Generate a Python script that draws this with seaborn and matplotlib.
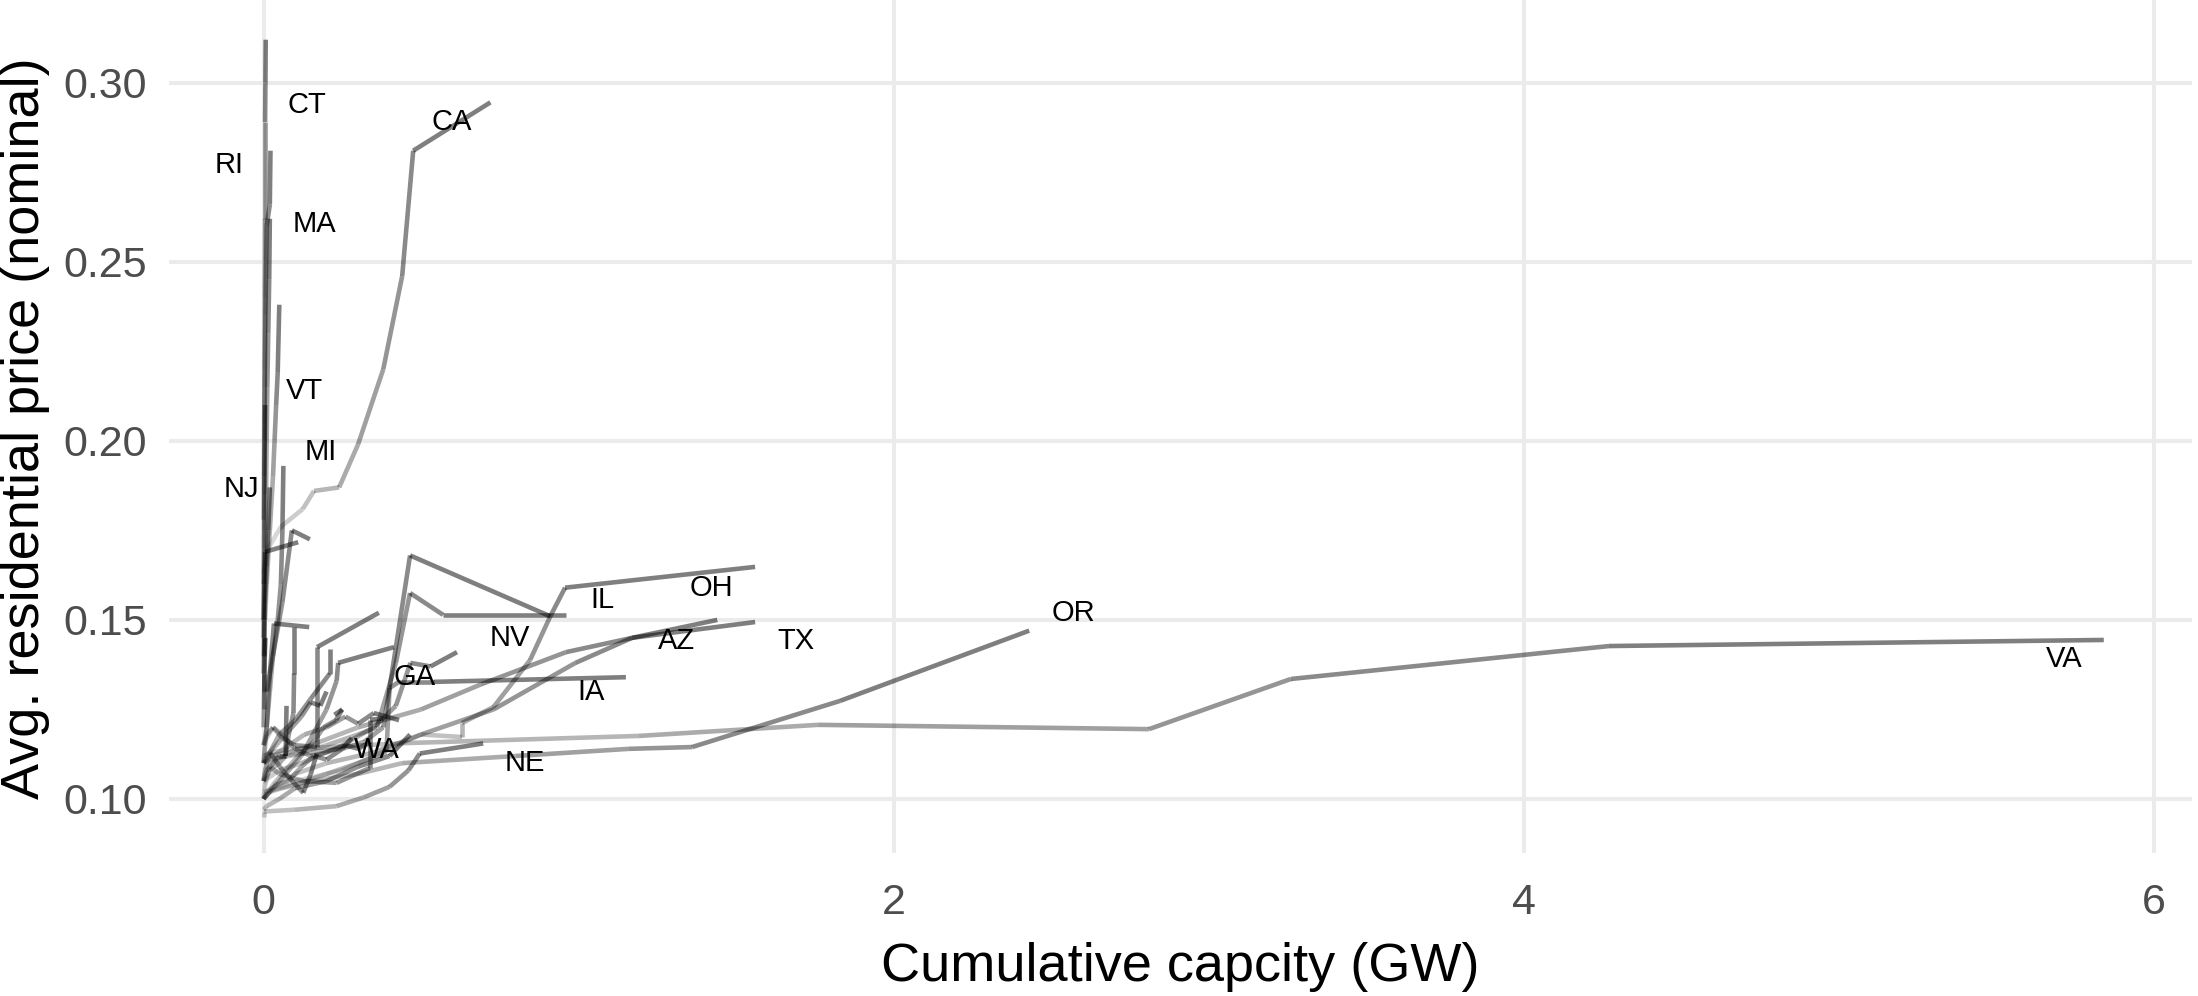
import numpy as np
import pandas as pd
import matplotlib
matplotlib.use("Agg")
import matplotlib.pyplot as plt
import seaborn as sns
from matplotlib.collections import LineCollection

# cumulative capacity (GW) and avg. residential price per state, oldest year first
CT_cap = [0.000, 0.001, 0.002, 0.003, 0.004, 0.005, 0.005, 0.006, 0.007]
CT_price = [0.178, 0.190, 0.205, 0.220, 0.240, 0.262, 0.289, 0.300, 0.312]
RI_cap = [0.000, 0.000, 0.001, 0.002, 0.003, 0.004, 0.006, 0.010, 0.020, 0.022]
RI_price = [0.150, 0.160, 0.170, 0.185, 0.200, 0.215, 0.235, 0.260, 0.266, 0.281]
MA_cap = [0.000, 0.002, 0.004, 0.006, 0.008, 0.010, 0.012, 0.015, 0.018, 0.020]
MA_price = [0.140, 0.150, 0.160, 0.170, 0.185, 0.200, 0.215, 0.230, 0.245, 0.262]
NH_cap = [0.000, 0.000, 0.001, 0.002, 0.003, 0.004, 0.005]
NH_price = [0.130, 0.145, 0.160, 0.175, 0.190, 0.200, 0.210]
VT_cap = [0.005, 0.010, 0.020, 0.030, 0.035, 0.040, 0.045, 0.050]
VT_price = [0.150, 0.160, 0.175, 0.190, 0.200, 0.210, 0.219, 0.238]
NY_cap = [0.000, 0.000, 0.002, 0.005, 0.110]
NY_price = [0.140, 0.150, 0.160, 0.169, 0.1717]
DC_cap = [0.010, 0.030, 0.060, 0.090, 0.147]
DC_price = [0.130, 0.140, 0.155, 0.175, 0.1725]
MI_cap = [0.000, 0.010, 0.020, 0.030, 0.045, 0.055, 0.060, 0.063]
MI_price = [0.115, 0.120, 0.130, 0.140, 0.150, 0.160, 0.175, 0.193]
NJ_cap = [0.000, 0.000, 0.002, 0.005, 0.010, 0.015, 0.020]
NJ_price = [0.125, 0.135, 0.145, 0.155, 0.165, 0.175, 0.187]
ME_cap = [0.000, 0.001, 0.002, 0.004, 0.006]
ME_price = [0.120, 0.125, 0.130, 0.140, 0.145]
DE_cap = [0.000, 0.010, 0.020, 0.033, 0.145]
DE_price = [0.110, 0.120, 0.135, 0.149, 0.148]
MD_cap = [0.000, 0.010, 0.030, 0.060, 0.100, 0.170, 0.170, 0.366]
MD_price = [0.115, 0.118, 0.120, 0.117, 0.115, 0.1145, 0.1424, 0.152]
PA_cap = [0.000, 0.020, 0.050, 0.070, 0.080, 0.095, 0.097, 0.097]
PA_price = [0.105, 0.108, 0.110, 0.112, 0.118, 0.124, 0.135, 0.148]
NC_cap = [0.000, 0.050, 0.120, 0.200, 0.232, 0.237, 0.414]
NC_price = [0.100, 0.105, 0.112, 0.125, 0.133, 0.138, 0.1424]
WI_cap = [0.000, 0.020, 0.050, 0.100, 0.150, 0.210, 0.210]
WI_price = [0.110, 0.113, 0.118, 0.122, 0.128, 0.135, 0.142]
GA_cap = [0.000, 0.050, 0.120, 0.250, 0.350, 0.420, 0.466, 0.530, 0.614]
GA_price = [0.105, 0.108, 0.110, 0.115, 0.120, 0.126, 0.138, 0.137, 0.141]
IA_cap = [0.000, 0.020, 0.100, 0.200, 0.300, 0.390, 0.400, 0.430, 0.540, 1.150]
IA_price = [0.100, 0.102, 0.104, 0.107, 0.110, 0.113, 0.131, 0.1327, 0.1327, 0.134]
NV_cap = [0.000, 0.020, 0.080, 0.150, 0.250, 0.320, 0.380, 0.400, 0.465, 0.910]
NV_price = [0.110, 0.111, 0.112, 0.113, 0.114, 0.116, 0.120, 0.131, 0.168, 0.151]
IL_cap = [0.000, 0.005, 0.020, 0.060, 0.120, 0.200, 0.300, 0.360, 0.420, 0.465, 0.570, 0.960]
IL_price = [0.105, 0.108, 0.110, 0.112, 0.113, 0.115, 0.118, 0.120, 0.138, 0.1575, 0.1514, 0.1514]
OH_cap = [0.000, 0.020, 0.100, 0.250, 0.500, 0.630, 0.630, 0.730, 0.846, 0.910, 0.957, 1.560]
OH_price = [0.100, 0.102, 0.105, 0.108, 0.118, 0.1173, 0.1212, 0.1257, 0.1388, 0.151, 0.159, 0.1648]
AZ_cap = [0.000, 0.030, 0.100, 0.200, 0.350, 0.500, 0.730, 0.990, 1.170, 1.440]
AZ_price = [0.100, 0.103, 0.107, 0.110, 0.113, 0.118, 0.125, 0.138, 0.145, 0.150]
TX_cap = [0.000, 0.020, 0.080, 0.150, 0.300, 0.500, 0.690, 0.960, 1.170, 1.560]
TX_price = [0.110, 0.112, 0.113, 0.115, 0.120, 0.125, 0.132, 0.141, 0.145, 0.1494]
WA_cap = [0.000, 0.005, 0.020, 0.050, 0.126, 0.232, 0.338, 0.338, 0.380]
WA_price = [0.100, 0.104, 0.109, 0.107, 0.105, 0.1045, 0.1087, 0.1221, 0.1225]
MN_cap = [0.000, 0.005, 0.020, 0.060, 0.126, 0.150, 0.169]
MN_price = [0.105, 0.108, 0.113, 0.108, 0.1017, 0.107, 0.1127]
NE_cap = [0.000, 0.000, 0.100, 0.232, 0.320, 0.400, 0.460, 0.496, 0.697]
NE_price = [0.095, 0.0965, 0.097, 0.098, 0.1005, 0.1034, 0.108, 0.1127, 0.1155]
OR_cap = [0.000, 0.050, 0.150, 0.300, 0.440, 0.800, 1.160, 1.360, 1.830, 2.430]
OR_price = [0.102, 0.103, 0.105, 0.107, 0.110, 0.112, 0.114, 0.1145, 0.1274, 0.147]
VA_cap = [0.000, 0.020, 0.100, 0.450, 1.190, 1.760, 2.810, 3.260, 4.270, 5.840]
VA_price = [0.112, 0.113, 0.114, 0.1156, 0.1176, 0.1207, 0.1195, 0.1335, 0.1427, 0.1444]
CA_cap = [0.000, 0.015, 0.055, 0.125, 0.160, 0.240, 0.300, 0.380, 0.440, 0.475, 0.720]
CA_price = [0.163, 0.170, 0.176, 0.181, 0.186, 0.187, 0.199, 0.220, 0.246, 0.281, 0.2945]
CO_cap = [0.000, 0.030, 0.080, 0.130, 0.200, 0.260, 0.300, 0.350, 0.430]
CO_price = [0.110, 0.112, 0.115, 0.118, 0.120, 0.123, 0.121, 0.124, 0.122]
NM_cap = [0.000, 0.030, 0.070, 0.110, 0.160, 0.190, 0.230, 0.250, 0.225]
NM_price = [0.100, 0.104, 0.108, 0.112, 0.116, 0.120, 0.122, 0.125, 0.1235]
FL_cap = [0.000, 0.010, 0.030, 0.060, 0.100, 0.150, 0.200, 0.260, 0.300, 0.340]
FL_price = [0.115, 0.117, 0.120, 0.118, 0.114, 0.112, 0.113, 0.115, 0.114, 0.116]
SC_cap = [0.000, 0.010, 0.030, 0.050, 0.070, 0.073]
SC_price = [0.105, 0.108, 0.110, 0.112, 0.112, 0.126]
UT_cap = [0.000, 0.010, 0.050, 0.100, 0.200, 0.300, 0.400, 0.465]
UT_price = [0.097, 0.098, 0.100, 0.103, 0.105, 0.109, 0.112, 0.118]
TN_cap = [0.000, 0.010, 0.040, 0.080, 0.120, 0.160, 0.200, 0.250, 0.280]
TN_price = [0.100, 0.102, 0.104, 0.105, 0.109, 0.112, 0.111, 0.114, 0.117]
IN_cap = [0.000, 0.005, 0.020, 0.050, 0.090, 0.120, 0.150, 0.180, 0.200]
IN_price = [0.110, 0.112, 0.113, 0.116, 0.120, 0.123, 0.127, 0.126, 0.130]

# text labels (placed off the line ends like ggrepel did)
label_states = ["CT", "RI", "MA", "VT", "MI", "NJ", "CA", "IL", "OH", "NV",
                "AZ", "TX", "GA", "IA", "WA", "NE", "OR", "VA"]
label_x = [0.139, -0.11, 0.16, 0.129, 0.18, -0.07, 0.596, 1.077, 1.42, 0.78,
           1.31, 1.69, 0.48, 1.04, 0.36, 0.83, 2.57, 5.715]
label_y = [0.2937, 0.277, 0.2605, 0.214, 0.197, 0.1865, 0.289, 0.1556, 0.159, 0.145,
           0.144, 0.144, 0.134, 0.130, 0.1137, 0.110, 0.152, 0.139]

paths = {
    "CT": (CT_cap, CT_price), "RI": (RI_cap, RI_price), "MA": (MA_cap, MA_price),
    "NH": (NH_cap, NH_price), "VT": (VT_cap, VT_price), "NY": (NY_cap, NY_price),
    "DC": (DC_cap, DC_price), "MI": (MI_cap, MI_price), "NJ": (NJ_cap, NJ_price),
    "ME": (ME_cap, ME_price), "DE": (DE_cap, DE_price), "MD": (MD_cap, MD_price),
    "PA": (PA_cap, PA_price), "NC": (NC_cap, NC_price), "WI": (WI_cap, WI_price),
    "GA": (GA_cap, GA_price), "IA": (IA_cap, IA_price), "NV": (NV_cap, NV_price),
    "IL": (IL_cap, IL_price), "OH": (OH_cap, OH_price), "AZ": (AZ_cap, AZ_price),
    "TX": (TX_cap, TX_price), "WA": (WA_cap, WA_price), "MN": (MN_cap, MN_price),
    "NE": (NE_cap, NE_price), "OR": (OR_cap, OR_price), "VA": (VA_cap, VA_price),
    "CA": (CA_cap, CA_price), "CO": (CO_cap, CO_price), "NM": (NM_cap, NM_price),
    "FL": (FL_cap, FL_price), "SC": (SC_cap, SC_price), "UT": (UT_cap, UT_price),
    "TN": (TN_cap, TN_price), "IN": (IN_cap, IN_price),
}

# long table: last point of every state is 2019
rows = []
for st, (cap, price) in paths.items():
    n = len(cap)
    for i in range(n):
        rows.append({"state": st, "year": 2019 - (n - 1 - i), "cap": cap[i], "price": price[i]})
df = pd.DataFrame(rows)

sns.set_theme(style="whitegrid")
plt.rcParams["font.family"] = ["Liberation Sans", "DejaVu Sans"]

W, H = 2198, 996
fig = plt.figure(figsize=(W / 100, H / 100), dpi=100)
ax = fig.add_axes([169 / W, 1 - 852.7 / H, (2192 - 169) / W, 852.4 / H])

# alpha follows the year, each segment drawn on its own (geom_path style)
y0, y1 = df["year"].min(), df["year"].max()
segs, cols = [], []
for st, g in df.groupby("state", sort=False):
    g = g.sort_values("year")
    pts = g[["cap", "price"]].to_numpy()
    yrs = g["year"].to_numpy()
    for i in range(len(pts) - 1):
        segs.append([pts[i], pts[i + 1]])
        t = (yrs[i + 1] - y0) / (y1 - y0)
        cols.append((0, 0, 0, 0.03 + 0.47 * t))
ax.add_collection(LineCollection(segs, colors=cols, linewidths=3.3, capstyle="butt", zorder=3))

for s, x, y in zip(label_states, label_x, label_y):
    ax.text(x, y, s, fontsize=21, ha="center", va="center", color="black", zorder=4)

ax.set_xlim(-0.3, 6.12)
ax.set_ylim(0.085, 0.323)
ax.set_xticks([0, 2, 4, 6])
ax.set_yticks([0.10, 0.15, 0.20, 0.25, 0.30])
ax.set_yticklabels([f"{v:.2f}" for v in [0.10, 0.15, 0.20, 0.25, 0.30]])
ax.grid(True, which="major", color="#EBEBEB", linewidth=2.9)
ax.set_axisbelow(True)
for sp in ax.spines.values():
    sp.set_visible(False)
ax.tick_params(axis="both", length=0, labelsize=31, labelcolor="#4D4D4D")
ax.tick_params(axis="x", pad=22)
ax.tick_params(axis="y", pad=16)
ax.set_facecolor("white")

fig.text(1180 / W, 1 - 967 / H, "Cumulative capcity (GW)", fontsize=39,
         ha="center", va="center", color="black")
fig.text(25 / W, 1 - 428 / H, "Avg. residential price (nominal)", fontsize=39,
         ha="center", va="center", rotation=90, color="black")

fig.savefig("out.png", dpi=100, facecolor="white")
